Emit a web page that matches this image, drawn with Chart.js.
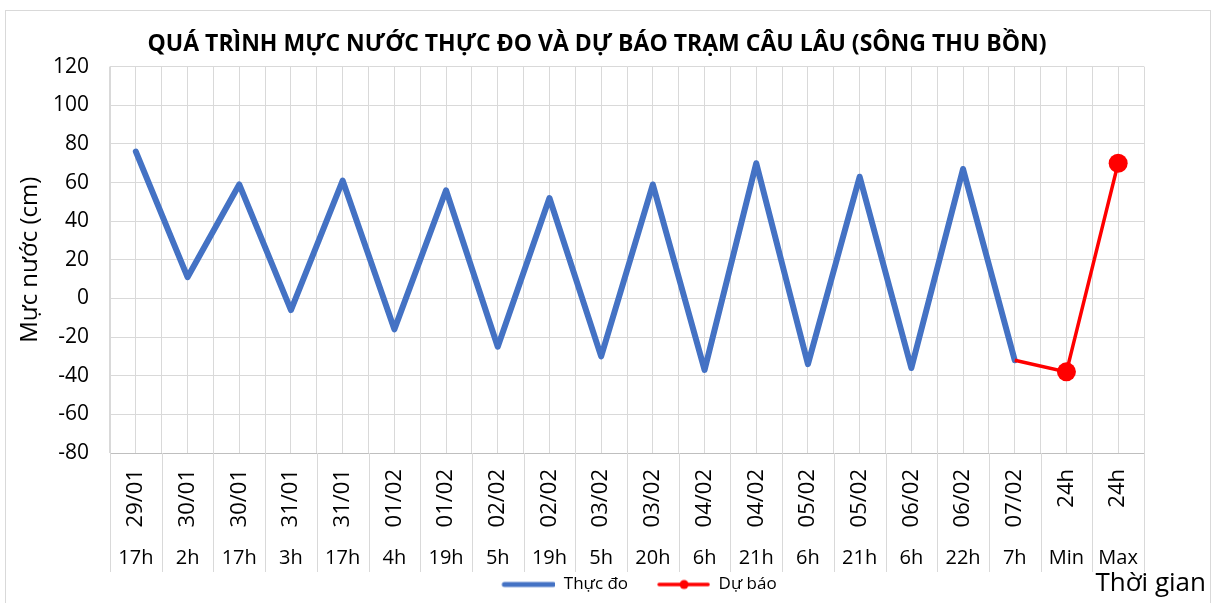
<!DOCTYPE html>
<html>
<head>
<meta charset="utf-8">
<script src="https://cdn.jsdelivr.net/npm/chart.js@4.4.1/dist/chart.umd.min.js"></script>
<style>
  html, body { margin: 0; padding: 0; background: #fff; }
  #wrap { position: relative; width: 1217px; height: 603px; }
</style>
</head>
<body>
<div id="wrap"><canvas id="mucnuoc" width="1217" height="603"></canvas></div>
<script>
// nhan truc hoanh (2 cap)
var ngay = ['29/01','30/01','30/01','31/01','31/01','01/02','01/02','02/02','02/02','03/02','03/02','04/02','04/02','05/02','05/02','06/02','06/02','07/02','24h','24h'];
var gio = ['17h','2h','17h','3h','17h','4h','19h','5h','19h','5h','20h','6h','21h','6h','21h','6h','22h','7h','Min','Max'];
// muc nuoc (cm)
var thucDo = [76, 11, 59, -6, 61, -16, 56, -25, 52, -30, 59, -37, 70, -34, 63, -36, 67, -32, null, null];
var duBao = [null, null, null, null, null, null, null, null, null, null, null, null, null, null, null, null, null, -32, -38, 70];
var yTicks = [-80, -60, -40, -20, 0, 20, 40, 60, 80, 100, 120];

var FONT = "'Open Sans', 'Noto Sans', sans-serif";
var gridColor = '#d9d9d9';

// mau chu thich (legend) - chua khoang trong ben trai
function legendImg(color, w, dot) {
    var c = document.createElement('canvas');
    c.width = 78; c.height = 12;
    var g = c.getContext('2d');
    g.strokeStyle = color; g.lineWidth = w; g.lineCap = 'round';
    g.beginPath(); g.moveTo(27, 6); g.lineTo(76, 6); g.stroke();
    if (dot) { g.fillStyle = color; g.beginPath(); g.arc(52, 6, 4.5, 0, Math.PI * 2); g.fill(); }
    return c;
}
var legendIcons = [legendImg('#4472C4', 5, false), legendImg('#FF0000', 3.5, true)];

var khung = {
    id: 'khung',
    beforeDraw: function(chart) {
        var c = chart.ctx;
        c.save();
        c.fillStyle = '#fff';
        c.fillRect(0, 0, chart.width, chart.height);
        c.strokeStyle = '#d9d9d9';
        c.lineWidth = 1;
        c.strokeRect(5.5, 10.5, 1205, 600);
        c.restore();
    },
    afterDraw: function(chart) {
        var c = chart.ctx, x = chart.scales.x, x2 = chart.scales.x2;
        var n = ngay.length, step = (x.right - x.left) / n;
        c.save();
        c.strokeStyle = gridColor;
        c.lineWidth = 1;
        for (var i = 0; i <= n; i++) {
            var px = Math.round(x.left + i * step) + 0.5;
            c.beginPath();
            c.moveTo(px, chart.chartArea.bottom);
            c.lineTo(px, x2.bottom);
            c.stroke();
        }
        c.fillStyle = '#000';
        c.font = "26px " + FONT;
        c.textAlign = 'right';
        c.textBaseline = 'middle';
        c.fillText('Thời gian', 1206, 584);
        c.restore();
    }
};

var ctx = document.getElementById('mucnuoc').getContext('2d');
new Chart(ctx, {
    type: 'line',
    data: {
        labels: ngay,
        datasets: [{
            label: 'Thực đo',
            data: thucDo,
            borderColor: '#4472C4',
            backgroundColor: '#4472C4',
            borderWidth: 6,
            pointRadius: 0,
            borderJoinStyle: 'round',
            borderCapStyle: 'round',
            order: 2
        }, {
            label: 'Dự báo',
            data: duBao,
            borderColor: '#FF0000',
            backgroundColor: '#FF0000',
            borderWidth: 3.5,
            pointRadius: function(c) { return c.dataIndex >= 18 ? 9.5 : 0; },
            pointBorderWidth: 0,
            order: 1
        }]
    },
    options: {
        responsive: false,
        animation: false,
        layout: { padding: { left: 12, right: 35, top: 10, bottom: 0 } },
        plugins: {
            title: {
                display: true,
                text: 'QUÁ TRÌNH MỰC NƯỚC THỰC ĐO VÀ DỰ BÁO TRẠM CÂU LÂU (SÔNG THU BỒN)',
                color: '#000',
                font: { family: FONT, size: 23, weight: 'bold' },
                padding: { top: 21, bottom: 8 }
            },
            legend: {
                position: 'bottom',
                fullSize: false,
                labels: {
                    usePointStyle: true,
                    pointStyleWidth: 78,
                    boxHeight: 12,
                    padding: 4,
                    color: '#000',
                    font: { family: FONT, size: 17 },
                    sort: function(a, b) { return a.datasetIndex - b.datasetIndex; },
                    generateLabels: function(chart) {
                        var items = Chart.defaults.plugins.legend.labels.generateLabels(chart);
                        items.forEach(function(it) { it.pointStyle = legendIcons[it.datasetIndex]; });
                        return items;
                    }
                }
            },
            tooltip: { enabled: false }
        },
        scales: {
            x: {
                type: 'category',
                labels: ngay,
                offset: true,
                grid: { offset: true, color: gridColor, drawTicks: false },
                border: { color: '#bfbfbf' },
                ticks: {
                    color: '#000', minRotation: 90, maxRotation: 90, autoSkip: false,
                    padding: 16,
                    font: { family: FONT, size: 22 }
                },
                afterFit: function(s) { s.height = 79; }
            },
            x2: {
                type: 'category',
                labels: gio,
                position: 'bottom',
                offset: true,
                grid: { offset: false, color: gridColor, drawTicks: false },
                border: { display: false },
                ticks: { color: '#000', autoSkip: false, maxRotation: 0, padding: 14, font: { family: FONT, size: 20 } },
                afterFit: function(s) { s.height = 40; }
            },
            y: {
                min: -80,
                max: 120,
                afterBuildTicks: function(s) { s.ticks = yTicks.map(function(v) { return { value: v }; }); },
                grid: { color: gridColor, drawTicks: false },
                border: { color: gridColor },
                ticks: { color: '#000', padding: 21, font: { family: FONT, size: 21 } },
                title: {
                    display: true,
                    text: 'Mực nước (cm)',
                    color: '#000',
                    font: { family: FONT, size: 24 },
                    padding: { top: 4, bottom: 0 }
                },
                afterFit: function(s) { s.width = 98; }
            },
            yR: {
                position: 'right',
                display: true,
                grid: { drawOnChartArea: false, drawTicks: false },
                border: { display: false },
                ticks: { display: false },
                afterFit: function(s) { s.width = 38; }
            }
        }
    },
    plugins: [khung]
});
</script>
</body>
</html>
